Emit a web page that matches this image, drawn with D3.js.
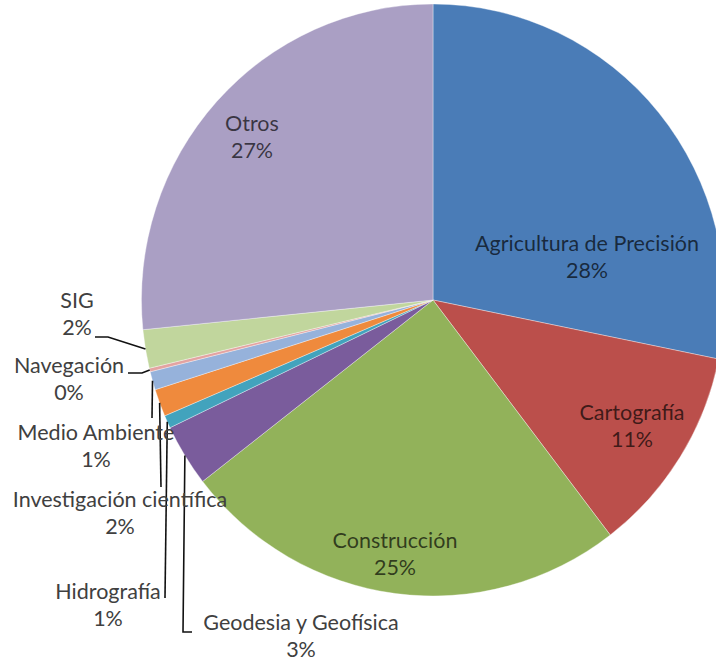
<!DOCTYPE html>
<meta charset="utf-8">
<script src="https://cdn.jsdelivr.net/npm/d3@7"></script>
<style>
body { margin: 0; background: #fff; }
text { font-family: Lato, "Open Sans", sans-serif; }
</style>
<body>
<script>
var width = 716, height = 662;

// data (percent of total)
var categories = ["Agricultura de Precisión", "Cartografía", "Construcción", "Geodesia y Geofísica",
                  "Hidrografía", "Investigación científica", "Medio Ambiente", "Navegación", "SIG", "Otros"];
var values = [28.2, 11.4, 24.9, 3.4, 0.7, 1.5, 1.0, 0.2, 2.1, 26.6];
var colors = ["#4a7cb7", "#bb4f4b", "#92b25a", "#7a5c9c", "#42a3bd", "#ef8a3d",
              "#96b2db", "#e3a3a1", "#c1d69d", "#aa9fc4"];

// label placement: [x, y of first line, inside?] and leader line bends
var labelPos = [
  [587, 251, true], [632, 420, true], [395, 548, true], [301, 630, false],
  [108, 599, false], [120, 507, false], [96, 440, false], [69, 373, false],
  [77, 308, false], [252, 131, true]
];
var leaderEnd = [
  null, null, null, [[183, 632], [192, 632]],
  [[165, 598]], [[161, 487]], [[152, 418]], [[142, 373], [128, 373]],
  [[108, 337], [95, 337]], null
];

var cx = 433, cy = 300, r = 296, sx = 0.985;
var total = d3.sum(values);

var svg = d3.select("body").append("svg")
    .attr("width", width)
    .attr("height", height);

var pie = d3.pie().sort(null).value(function(d) { return d; });
var arcs = pie(values);
var arc = d3.arc().innerRadius(0).outerRadius(r);

var g = svg.append("g")
    .attr("transform", "translate(" + cx + "," + cy + ") scale(" + sx + ",1)");

g.selectAll("path")
    .data(arcs)
    .enter().append("path")
    .attr("d", arc)
    .attr("fill", function(d, i) { return colors[i]; })
    .attr("stroke", "#fff")
    .attr("stroke-opacity", 0.45)
    .attr("stroke-width", 0.8);

// leader lines start at the slice edge, mid angle
arcs.forEach(function(d, i) {
  if (!leaderEnd[i]) return;
  var a = (d.startAngle + d.endAngle) / 2;
  var p0 = [cx + sx * r * Math.sin(a), cy - r * Math.cos(a)];
  var pts = [p0].concat(leaderEnd[i]);
  svg.append("path")
      .attr("d", d3.line()(pts))
      .attr("fill", "none")
      .attr("stroke", "#111")
      .attr("stroke-width", 1.6);
});

arcs.forEach(function(d, i) {
  var p = labelPos[i];
  var t = svg.append("text")
      .attr("text-anchor", "middle")
      .style("font-size", "21.5px")
      .attr("fill", p[2] ? "#000" : "#404040")
      .attr("fill-opacity", p[2] ? 0.68 : 1);
  t.append("tspan").attr("x", p[0]).attr("y", p[1]).text(categories[i]);
  t.append("tspan").attr("x", p[0]).attr("y", p[1] + 27)
      .text(Math.round(values[i] / total * 100) + "%");
});
</script>
</body>
</html>
